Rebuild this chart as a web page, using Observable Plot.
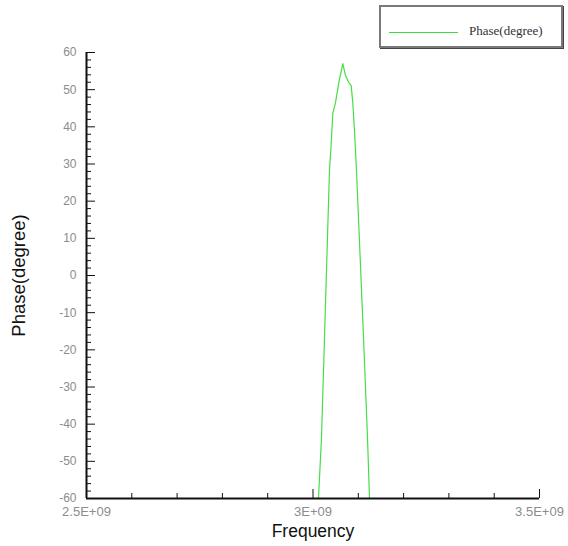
<!DOCTYPE html>
<html>
<head>
<meta charset="utf-8">
<script src="https://cdn.jsdelivr.net/npm/d3@7"></script>
<script src="https://cdn.jsdelivr.net/npm/@observablehq/plot@0.6"></script>
<style>
  html, body { margin: 0; padding: 0; background: #fff; }
  #wrap { position: relative; width: 568px; height: 546px; overflow: hidden; }
  #legend {
    position: absolute; left: 379px; top: 5px; width: 180px; height: 39px;
    border: 2px solid #7a7a7a; box-sizing: content-box; background: #fff;
    box-shadow: 1px 1px 0 #444;
  }
  #legend .ln { position: absolute; left: 8px; top: 25px; width: 69px; height: 0; border-top: 1px solid #3ddc3d; }
  #legend .tx { position: absolute; left: 88px; top: 16px; font: 13px "Liberation Serif", "DejaVu Serif", serif; color: #333; white-space: nowrap; }
</style>
</head>
<body>
<div id="wrap">
  <div id="chart"></div>
  <div id="legend"><div class="ln"></div><div class="tx">Phase(degree)</div></div>
</div>
<script>
// Data (frequency in Hz, phase in degrees)
const frequency = [3.0085e9, 3.0121e9, 3.0188e9, 3.0254e9, 3.0364e9, 3.0402e9, 3.0437e9, 3.0497e9, 3.0570e9, 3.0658e9,
                   3.0717e9, 3.0790e9, 3.0843e9, 3.0878e9, 3.0916e9, 3.0960e9, 3.1115e9, 3.1203e9, 3.1247e9, 3.1270e9];
const phase     = [-75, -60.0, -43.6, -16.7, 28.3, 35.5, 43.6, 46.5, 51.9, 57.0,
                   53.8, 51.9, 51.1, 46.5, 39.0, 28.3, -16.7, -43.6, -60.0, -70];
const seriesName = "Phase(degree)";
const xMajorTicks = [2.5e9, 3.0e9, 3.5e9];
const xMinorTicks = [2.6e9, 2.7e9, 2.8e9, 2.9e9, 3.1e9, 3.2e9, 3.3e9, 3.4e9];
const yMajorTicks = [-60, -50, -40, -30, -20, -10, 0, 10, 20, 30, 40, 50, 60];
const yMinorTicks = d3.range(-60, 61, 2).filter(v => v % 10 !== 0);
const xLabel = "Frequency";
const yLabel = "Phase(degree)";

const data = frequency.map((f, i) => ({f, p: phase[i]}));
const fmtX = d => (d / 1e9) + "E+09";
const fmtY = d => String(d);
const gray = "#8c8c8c";

const plot = Plot.plot({
  width: 568,
  height: 546,
  marginLeft: 86,
  marginRight: 29,
  marginTop: 52,
  marginBottom: 48,
  style: {fontFamily: "'Liberation Sans', Arial, sans-serif", fontSize: "12px", background: "#fff"},
  x: {type: "linear", domain: [2.5e9, 3.5e9]},
  y: {domain: [-60, 60]},
  marks: [
    Plot.line(data, {x: "f", y: "p", stroke: "#45de45", strokeWidth: 1.2, clip: true}),
    // x ticks (inward)
    Plot.axisX({ticks: xMinorTicks, tickSize: -5, tickFormat: () => "", label: null, stroke: "#111"}),
    Plot.axisX({ticks: xMajorTicks, tickSize: -9, tickFormat: () => "", label: null, stroke: "#111"}),
    Plot.axisX({ticks: xMajorTicks, tickSize: 0, tickPadding: 8, tickFormat: fmtX, label: null, fill: gray, fontSize: 13}),
    // y ticks (inward)
    Plot.axisY({ticks: yMinorTicks, tickSize: -5, tickFormat: () => "", label: null, stroke: "#111"}),
    Plot.axisY({ticks: yMajorTicks, tickSize: -9, tickFormat: () => "", label: null, stroke: "#111"}),
    Plot.axisY({ticks: yMajorTicks, tickSize: 0, tickPadding: 10, tickFormat: fmtY, label: null, fill: gray, fontSize: 12}),
    // axis lines
    Plot.ruleY([-60], {stroke: "#111", strokeWidth: 2}),
    Plot.ruleX([2.5e9], {stroke: "#111", strokeWidth: 2}),
    // axis titles
    Plot.text([xLabel], {frameAnchor: "bottom", dy: 38, fontSize: 17.5, fill: "#111"}),
    Plot.text([yLabel], {frameAnchor: "left", textAnchor: "middle", dx: -67, rotate: -90, fontSize: 18.5, fill: "#111"})
  ]
});
document.getElementById("chart").appendChild(plot);
</script>
</body>
</html>
